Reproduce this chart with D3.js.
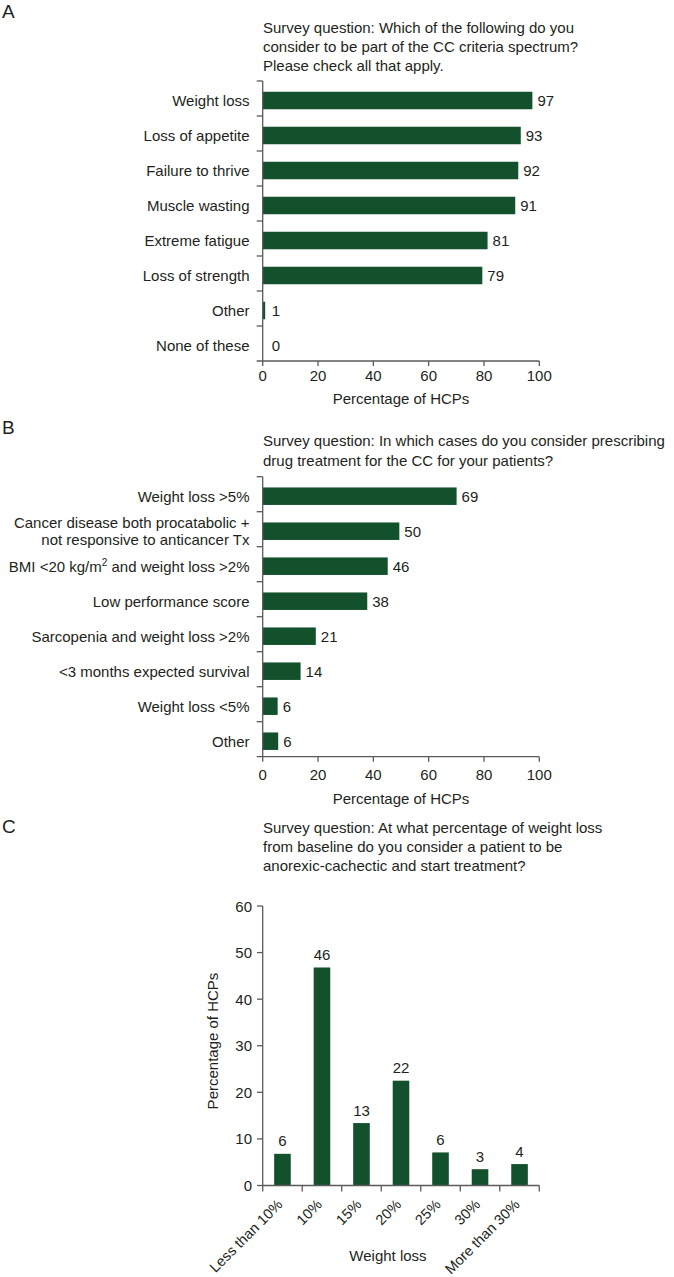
<!DOCTYPE html>
<html>
<head>
<meta charset="utf-8">
<script src="https://cdn.jsdelivr.net/npm/d3@7"></script>
<style>
  html, body { margin: 0; padding: 0; background: #fff; }
  svg { display: block; font-family: "Liberation Sans", Arial, sans-serif; }
  text { fill: #231f20; }
</style>
</head>
<body>
<svg id="chart" width="674" height="1277"></svg>
<script>
// ---------- Data ----------
const titleA = ["Survey question: Which of the following do you",
                "consider to be part of the CC criteria spectrum?",
                "Please check all that apply."];
const categoriesA = ["Weight loss", "Loss of appetite", "Failure to thrive", "Muscle wasting",
                     "Extreme fatigue", "Loss of strength", "Other", "None of these"];
const valuesA = [97.5, 93.3, 92.4, 91.3, 81.3, 79.4, 0.9, 0];
const labelsA = ["97", "93", "92", "91", "81", "79", "1", "0"];

const titleB = ["Survey question: In which cases do you consider prescribing",
                "drug treatment for the CC for your patients?"];
const categoriesB = ["Weight loss >5%",
                     "Cancer disease both procatabolic +|not responsive to anticancer Tx",
                     "BMI <20 kg/m^2 and weight loss >2%",
                     "Low performance score",
                     "Sarcopenia and weight loss >2%",
                     "<3 months expected survival",
                     "Weight loss <5%",
                     "Other"];
const valuesB = [70.1, 49.4, 45.2, 37.8, 19.2, 13.7, 5.4, 5.6];
const labelsB = ["69", "50", "46", "38", "21", "14", "6", "6"];

const xTicksAB = [0, 20, 40, 60, 80, 100];

const titleC = ["Survey question: At what percentage of weight loss",
                "from baseline do you consider a patient to be",
                "anorexic-cachectic and start treatment?"];
const categoriesC = ["Less than 10%", "10%", "15%", "20%", "25%", "30%", "More than 30%"];
const valuesC = [6.8, 46.8, 13.4, 22.5, 7.1, 3.5, 4.6];
const labelsC = ["6", "46", "13", "22", "6", "3", "4"];
const yTicksC = [0, 10, 20, 30, 40, 50, 60];

// ---------- Styles ----------
const BAR = "#13512d";
const AXIS = "#5a5a5a";
const FS = 15;

const svg = d3.select("#chart");

function panelLetter(t, y) {
  svg.append("text").attr("x", 2).attr("y", y).attr("font-size", 19).text(t);
}
function titleLines(lines, y0, dy) {
  lines.forEach((l, i) => svg.append("text").attr("x", 263).attr("y", y0 + i * dy)
    .attr("font-size", FS).text(l));
}

// Horizontal bar panel
function hPanel(opts) {
  const g = svg.append("g");
  const x = d3.scaleLinear().domain([0, 100]).range([262.7, 539.3]);
  const y = d3.scaleBand().domain(opts.cats).range([opts.top, opts.bottom])
    .paddingInner(0.5).paddingOuter(0.25);

  // bars
  g.selectAll("rect.bar").data(opts.vals).join("rect")
    .attr("x", x(0))
    .attr("y", (d, i) => y(opts.cats[i]) + 2)
    .attr("width", d => x(d) - x(0))
    .attr("height", y.bandwidth())
    .attr("fill", BAR);

  // value labels
  g.selectAll("text.val").data(opts.vals).join("text")
    .attr("x", (d, i) => Math.max(x(d) + 5, x(0) + 9))
    .attr("y", (d, i) => y(opts.cats[i]) + 2 + y.bandwidth() / 2 + 5.5)
    .attr("font-size", FS)
    .text((d, i) => opts.labels[i]);

  // y axis line and ticks at band boundaries
  g.append("line").attr("x1", x(0)).attr("x2", x(0))
    .attr("y1", opts.top).attr("y2", opts.bottom)
    .attr("stroke", AXIS).attr("stroke-width", 1.3);
  const bounds = d3.range(opts.cats.length).map(i => opts.top + i * y.step());
  g.selectAll("line.yt").data(bounds).join("line")
    .attr("x1", x(0) - 6).attr("x2", x(0))
    .attr("y1", d => d).attr("y2", d => d)
    .attr("stroke", AXIS).attr("stroke-width", 1.3);

  // category labels
  opts.cats.forEach((c, i) => {
    const cy = y(c) + 2 + y.bandwidth() / 2;
    const parts = c.split("|");
    parts.forEach((p, j) => {
      const base = cy + 5.5 + (j - (parts.length - 1) / 2) * 16.5;
      const t = g.append("text").attr("x", 249.5).attr("y", base)
        .attr("text-anchor", "end").attr("font-size", FS);
      if (p.includes("^2")) {
        const s = p.split("^2");
        t.append("tspan").text(s[0]);
        t.append("tspan").attr("font-size", 10).attr("dy", -6).text("2");
        t.append("tspan").attr("dy", 6).text(s[1]);
      } else {
        t.text(p);
      }
    });
  });

  // x axis
  const ax = g.append("g").attr("transform", `translate(0,${opts.bottom})`);
  ax.append("line").attr("x1", x(0) - 6).attr("x2", x(100)).attr("y1", 0).attr("y2", 0)
    .attr("stroke", AXIS).attr("stroke-width", 1.3);
  ax.selectAll("line.xt").data(xTicksAB).join("line")
    .attr("x1", d => x(d)).attr("x2", d => x(d)).attr("y1", 0).attr("y2", 5)
    .attr("stroke", AXIS).attr("stroke-width", 1.3);
  ax.selectAll("text").data(xTicksAB).join("text")
    .attr("x", d => x(d)).attr("y", opts.tickDy)
    .attr("text-anchor", "middle").attr("font-size", FS).text(d => d);
  g.append("text").attr("x", 401).attr("y", opts.bottom + opts.titleDy)
    .attr("text-anchor", "middle").attr("font-size", FS).text("Percentage of HCPs");
}

// ---------- Panel A ----------
panelLetter("A", 18);
titleLines(titleA, 33, 19);
hPanel({ cats: categoriesA, vals: valuesA, labels: labelsA, top: 81, bottom: 361,
         tickDy: 20, titleDy: 43 });

// ---------- Panel B ----------
panelLetter("B", 434);
titleLines(titleB, 446, 20);
hPanel({ cats: categoriesB, vals: valuesB, labels: labelsB, top: 476.7, bottom: 756.7,
         tickDy: 23.5, titleDy: 47 });

// ---------- Panel C ----------
panelLetter("C", 833);
titleLines(titleC, 833, 19);
(function () {
  const g = svg.append("g");
  const x = d3.scaleBand().domain(categoriesC).range([262.7, 539.3])
    .paddingInner(0.58).paddingOuter(0.29);
  const y = d3.scaleLinear().domain([0, 60]).range([1185.5, 906]);

  g.selectAll("rect").data(valuesC).join("rect")
    .attr("x", (d, i) => x(categoriesC[i]))
    .attr("y", d => y(d))
    .attr("width", x.bandwidth())
    .attr("height", d => y(0) - y(d))
    .attr("fill", BAR);

  g.selectAll("text.val").data(valuesC).join("text")
    .attr("x", (d, i) => x(categoriesC[i]) + x.bandwidth() / 2)
    .attr("y", d => y(d) - 7.5)
    .attr("text-anchor", "middle").attr("font-size", FS)
    .text((d, i) => labelsC[i]);

  // y axis
  g.append("line").attr("x1", 262.7).attr("x2", 262.7).attr("y1", y(60)).attr("y2", y(0))
    .attr("stroke", AXIS).attr("stroke-width", 1.3);
  g.selectAll("line.yt").data(yTicksC).join("line")
    .attr("x1", 257).attr("x2", 262.7).attr("y1", d => y(d)).attr("y2", d => y(d))
    .attr("stroke", AXIS).attr("stroke-width", 1.3);
  g.selectAll("text.yl").data(yTicksC).join("text")
    .attr("x", 252).attr("y", d => y(d) + 5.5)
    .attr("text-anchor", "end").attr("font-size", FS).text(d => d);
  g.append("text").attr("transform", "translate(218,1041) rotate(-90)")
    .attr("text-anchor", "middle").attr("font-size", FS).text("Percentage of HCPs");

  // x axis
  g.append("line").attr("x1", 262.7).attr("x2", 539.3).attr("y1", y(0)).attr("y2", y(0))
    .attr("stroke", AXIS).attr("stroke-width", 1.3);
  const bounds = d3.range(categoriesC.length + 1).map(i => 262.7 + i * (276.6 / categoriesC.length));
  g.selectAll("line.xt").data(bounds).join("line")
    .attr("x1", d => d).attr("x2", d => d).attr("y1", y(0)).attr("y2", y(0) + 6)
    .attr("stroke", AXIS).attr("stroke-width", 1.3);
  g.selectAll("text.xl").data(categoriesC).join("text")
    .attr("transform", d => `translate(${x(d) + x.bandwidth() / 2 + 1},${y(0) + 20}) rotate(-45)`)
    .attr("text-anchor", "end").attr("font-size", 14.5).text(d => d);
  g.append("text").attr("x", 388).attr("y", 1261)
    .attr("text-anchor", "middle").attr("font-size", FS).text("Weight loss");
})();
</script>
</body>
</html>
